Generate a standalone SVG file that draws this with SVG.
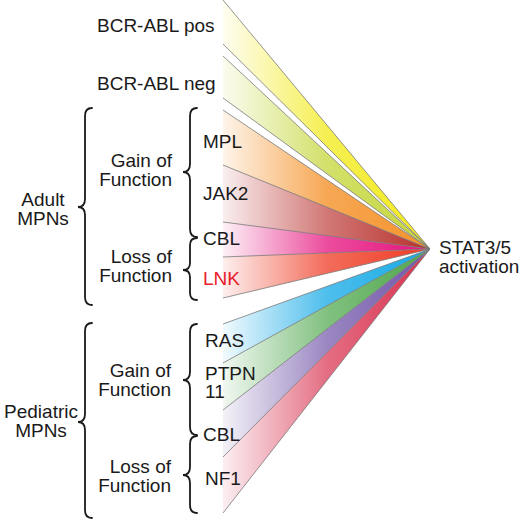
<svg xmlns="http://www.w3.org/2000/svg" width="520" height="521" viewBox="0 0 520 521">
<style>
text{font-family:"Liberation Sans",Arial,sans-serif;font-size:19px;fill:#1a1a1a}
.r{text-anchor:end}
.c{text-anchor:middle}
.brace{fill:none;stroke:#1a1a1a;stroke-width:1.8;stroke-linecap:round}
.edge{stroke:#7a7a7a;stroke-width:0.8;fill:none}
</style>
<defs>
<linearGradient id="gY" gradientUnits="userSpaceOnUse" x1="223" y1="0" x2="430" y2="0"><stop offset="0" stop-color="#f2ea1a" stop-opacity="0.06"/><stop offset="0.5" stop-color="#f2ea1a" stop-opacity="0.75"/><stop offset="1" stop-color="#f2ea1a"/></linearGradient>
<linearGradient id="gYG" gradientUnits="userSpaceOnUse" x1="223" y1="0" x2="430" y2="0"><stop offset="0" stop-color="#c5d63a" stop-opacity="0.08"/><stop offset="0.5" stop-color="#c5d63a" stop-opacity="0.75"/><stop offset="1" stop-color="#c5d63a"/></linearGradient>
<linearGradient id="gO" gradientUnits="userSpaceOnUse" x1="223" y1="0" x2="430" y2="0"><stop offset="0" stop-color="#f5922a" stop-opacity="0.1"/><stop offset="0.5" stop-color="#f5922a" stop-opacity="0.8"/><stop offset="1" stop-color="#f5922a"/></linearGradient>
<linearGradient id="gB" gradientUnits="userSpaceOnUse" x1="223" y1="0" x2="430" y2="0"><stop offset="0" stop-color="#b8302c" stop-opacity="0.08"/><stop offset="0.5" stop-color="#b8302c" stop-opacity="0.65"/><stop offset="1" stop-color="#b8302c"/></linearGradient>
<linearGradient id="gM" gradientUnits="userSpaceOnUse" x1="223" y1="0" x2="430" y2="0"><stop offset="0" stop-color="#e5127d" stop-opacity="0.06"/><stop offset="0.5" stop-color="#e5127d" stop-opacity="0.75"/><stop offset="1" stop-color="#e5127d"/></linearGradient>
<linearGradient id="gR" gradientUnits="userSpaceOnUse" x1="223" y1="0" x2="430" y2="0"><stop offset="0" stop-color="#ef3b24" stop-opacity="0.08"/><stop offset="0.5" stop-color="#ef3b24" stop-opacity="0.75"/><stop offset="1" stop-color="#ef3b24"/></linearGradient>
<linearGradient id="gC" gradientUnits="userSpaceOnUse" x1="223" y1="0" x2="430" y2="0"><stop offset="0" stop-color="#14a9e6" stop-opacity="0.06"/><stop offset="0.5" stop-color="#14a9e6" stop-opacity="0.75"/><stop offset="1" stop-color="#14a9e6"/></linearGradient>
<linearGradient id="gG" gradientUnits="userSpaceOnUse" x1="223" y1="0" x2="430" y2="0"><stop offset="0" stop-color="#4ca64a" stop-opacity="0.08"/><stop offset="0.5" stop-color="#4ca64a" stop-opacity="0.7"/><stop offset="1" stop-color="#4ca64a"/></linearGradient>
<linearGradient id="gP" gradientUnits="userSpaceOnUse" x1="223" y1="0" x2="430" y2="0"><stop offset="0" stop-color="#7054a8" stop-opacity="0.08"/><stop offset="0.5" stop-color="#7054a8" stop-opacity="0.7"/><stop offset="1" stop-color="#7054a8"/></linearGradient>
<linearGradient id="gK" gradientUnits="userSpaceOnUse" x1="223" y1="0" x2="430" y2="0"><stop offset="0" stop-color="#d8304e" stop-opacity="0.08"/><stop offset="0.5" stop-color="#d8304e" stop-opacity="0.7"/><stop offset="1" stop-color="#d8304e"/></linearGradient>
</defs>
<rect width="520" height="521" fill="#ffffff"/>
<g id="connectors">
<polygon points="223,0 430,249 223,44" fill="url(#gY)"/>
<polygon points="223,56 430,249 223,98" fill="url(#gYG)"/>
<polygon points="223,110 430,249 223,165" fill="url(#gO)"/>
<polygon points="223,165 430,249 223,222" fill="url(#gB)"/>
<polygon points="223,222 430,249 223,257" fill="url(#gM)"/>
<polygon points="223,257 430,249 223,298" fill="url(#gR)"/>
<polygon points="223,324 430,249 223,363" fill="url(#gC)"/>
<polygon points="223,363 430,249 223,410" fill="url(#gG)"/>
<polygon points="223,410 430,249 223,457" fill="url(#gP)"/>
<polygon points="223,457 430,249 223,513" fill="url(#gK)"/>
<path class="edge" d="M223,0L430,249M223,44L430,249M223,56L430,249M223,98L430,249M223,110L430,249M223,165L430,249M223,222L430,249M223,257L430,249M223,298L430,249M223,324L430,249M223,363L430,249M223,410L430,249M223,457L430,249M223,513L430,249"/>
</g>
<g id="bcr-abl-pos"><text x="97" y="32">BCR-ABL pos</text></g>
<g id="bcr-abl-neg"><text x="97" y="90">BCR-ABL neg</text></g>
<g id="adult-mpns">
<text class="c" x="43" y="206">Adult</text>
<text class="c" x="43" y="225">MPNs</text>
<path class="brace" d="M92,108Q85,108 85,116L85,199Q85,207 78,207Q85,207 85,215L85,297Q85,305 92,305"/>
</g>
<g id="adult-gain">
<text class="r" x="172" y="167">Gain of</text>
<text class="r" x="172" y="186">Function</text>
<path class="brace" d="M197,108Q190,108 190,116L190,164Q190,172 183,172Q190,172 190,180L190,229Q190,237 197,237"/>
</g>
<g id="adult-loss">
<text class="r" x="172" y="263">Loss of</text>
<text class="r" x="172" y="282">Function</text>
<path class="brace" d="M197,238Q190,238 190,245L190,263Q190,270 183,270Q190,270 190,277L190,293Q190,300 197,300"/>
</g>
<g id="mpl"><text x="203" y="148">MPL</text></g>
<g id="jak2"><text x="203" y="200">JAK2</text></g>
<g id="cbl-adult"><text x="203" y="245">CBL</text></g>
<g id="lnk"><text x="203" y="285" style="fill:#e8202a">LNK</text></g>
<g id="pediatric-mpns">
<text class="c" x="41" y="418">Pediatric</text>
<text class="c" x="41" y="437">MPNs</text>
<path class="brace" d="M92,323Q85,323 85,331L85,414Q85,422 78,422Q85,422 85,430L85,510Q85,518 92,518"/>
</g>
<g id="pediatric-gain">
<text class="r" x="171" y="377">Gain of</text>
<text class="r" x="171" y="396">Function</text>
<path class="brace" d="M197,324Q190,324 190,332L190,372Q190,380 183,380Q190,380 190,388L190,427Q190,435 197,435"/>
</g>
<g id="pediatric-loss">
<text class="r" x="171" y="473">Loss of</text>
<text class="r" x="171" y="492">Function</text>
<path class="brace" d="M197,436Q190,436 190,444L190,467Q190,475 183,475Q190,475 190,483L190,505Q190,513 197,513"/>
</g>
<g id="ras"><text x="205" y="347">RAS</text></g>
<g id="ptpn11"><text x="205" y="380">PTPN</text><text x="205" y="398">11</text></g>
<g id="cbl-ped"><text x="203" y="441">CBL</text></g>
<g id="nf1"><text x="205" y="485">NF1</text></g>
<g id="stat"><text x="439" y="254">STAT3/5</text><text x="439" y="273">activation</text></g>
</svg>
